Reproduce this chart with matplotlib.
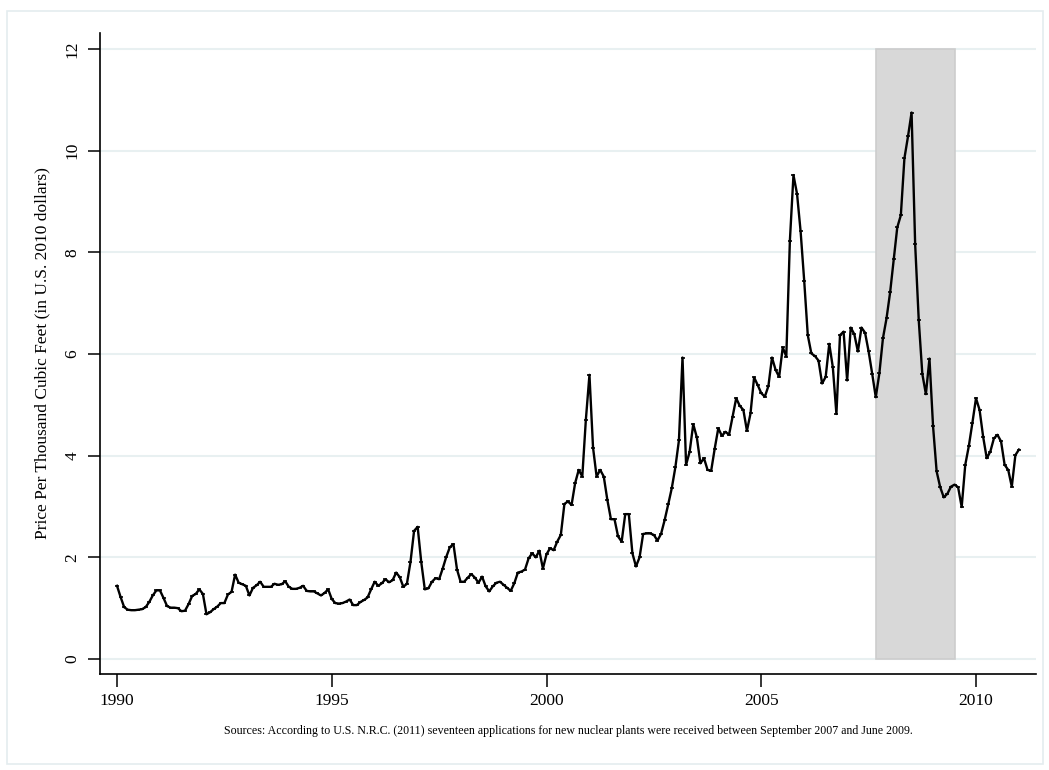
# -*- coding: utf-8 -*-
import numpy as np
import matplotlib.pyplot as plt
from matplotlib.patches import Rectangle

plt.rcParams['font.family'] = ['Liberation Serif', 'DejaVu Serif']

### Data ######################################################################

# monthly price, Jan 1990 - Jan 2011 (one row per year)
price = [
    1.44, 1.22, 1.02, 0.97, 0.96, 0.96, 0.97, 0.98, 1.02, 1.12, 1.25, 1.35,
    1.35, 1.20, 1.04, 1.01, 1.01, 1.00, 0.94, 0.95, 1.08, 1.24, 1.28, 1.37,
    1.28, 0.88, 0.92, 0.98, 1.03, 1.10, 1.10, 1.27, 1.32, 1.66, 1.50, 1.47,
    1.44, 1.25, 1.40, 1.45, 1.52, 1.42, 1.42, 1.42, 1.48, 1.46, 1.47, 1.53,
    1.42, 1.38, 1.38, 1.40, 1.44, 1.34, 1.33, 1.33, 1.29, 1.25, 1.30, 1.37,
    1.18, 1.10, 1.09, 1.10, 1.13, 1.17, 1.06, 1.06, 1.12, 1.16, 1.21, 1.37,
    1.52, 1.44, 1.49, 1.57, 1.51, 1.55, 1.70, 1.61, 1.42, 1.48, 1.91, 2.52,
    2.60, 1.91, 1.37, 1.39, 1.52, 1.59, 1.57, 1.78, 2.01, 2.20, 2.26, 1.76,
    1.52, 1.52, 1.60, 1.67, 1.60, 1.50, 1.62, 1.43, 1.33, 1.43, 1.50, 1.52,
    1.46, 1.40, 1.34, 1.49, 1.70, 1.72, 1.76, 1.98, 2.08, 2.00, 2.13, 1.78,
    2.06, 2.18, 2.14, 2.31, 2.44, 3.05, 3.10, 3.03, 3.46, 3.72, 3.59, 4.71,
    5.59, 4.16, 3.59, 3.72, 3.59, 3.13, 2.75, 2.75, 2.41, 2.31, 2.85, 2.85,
    2.08, 1.82, 2.00, 2.46, 2.47, 2.47, 2.44, 2.33, 2.46, 2.73, 3.04, 3.36,
    3.77, 4.30, 5.93, 3.82, 4.08, 4.62, 4.36, 3.85, 3.95, 3.72, 3.70, 4.14,
    4.54, 4.39, 4.47, 4.41, 4.77, 5.13, 4.98, 4.90, 4.49, 4.83, 5.54, 5.39,
    5.23, 5.16, 5.37, 5.93, 5.69, 5.55, 6.13, 5.95, 8.23, 9.52, 9.15, 8.41,
    7.44, 6.37, 6.01, 5.96, 5.87, 5.42, 5.55, 6.20, 5.74, 4.82, 6.37, 6.44,
    5.48, 6.52, 6.39, 6.05, 6.52, 6.42, 6.05, 5.61, 5.15, 5.62, 6.31, 6.70,
    7.21, 7.86, 8.49, 8.73, 9.85, 10.28, 10.75, 8.16, 6.67, 5.61, 5.21, 5.91,
    4.58, 3.69, 3.38, 3.18, 3.25, 3.39, 3.43, 3.38, 2.99, 3.82, 4.19, 4.65,
    5.13, 4.90, 4.37, 3.95, 4.08, 4.34, 4.41, 4.28, 3.82, 3.72, 3.39, 4.01,
    4.12,
]
startYear = 1990

xticks = [1990, 1995, 2000, 2005, 2010]
yticks = [0, 2, 4, 6, 8, 10, 12]

# NRC application window: September 2007 - June 2009
shadeStart = 2007 + 8 / 12
shadeEnd = 2009 + 6 / 12

ylabel = 'Price Per Thousand Cubic Feet (in U.S. 2010 dollars)'
caption = ('Sources: According to U.S. N.R.C. (2011) seventeen applications for new '
           'nuclear plants were received between September 2007 and June 2009.')

xScale = startYear + np.arange(len(price)) / 12

### Plot ######################################################################

W, H = 1049, 770
fig = plt.figure(figsize=(W / 100, H / 100), dpi=100)
fig.patch.set_facecolor('white')

# light outer frame
fig.patches.append(Rectangle((7 / W, 6 / H), 1036 / W, 753 / H, transform=fig.transFigure,
                             fill=False, edgecolor='#e4ecef', linewidth=1.2))

ax = fig.add_axes([100 / W, 96 / H, 936 / W, 641 / H])

ax.add_patch(Rectangle((shadeStart, 0), shadeEnd - shadeStart, 12,
                       facecolor='#d8d8d8', edgecolor='#cdcdcd', linewidth=1.2, zorder=1.5))

ax.plot(xScale, price, color='black', linewidth=1.7, marker='_', markersize=3.5,
        markeredgewidth=1.2, zorder=3)

ax.set_xlim(1990 - 17 / 42.95, 1990 + 919 / 42.95)
ax.set_ylim(-15 / 50.83, 12 + 16 / 50.83)

ax.set_xticks(xticks)
ax.set_yticks(yticks)
ax.set_yticklabels([str(v) for v in yticks], rotation=90, va='center')
ax.tick_params(axis='both', labelsize=12.5, length=9, width=1.1, color='black', pad=5)

ax.yaxis.grid(True, color='#e8f0f1', linewidth=1.5)
ax.set_axisbelow(True)

for side in ['top', 'right']:
    ax.spines[side].set_visible(False)
for side in ['left', 'bottom']:
    ax.spines[side].set_linewidth(1.2)

ax.set_ylabel(ylabel, fontsize=12.5, labelpad=10)

fig.text(568 / W, 1 - 731 / H, caption, ha='center', va='center', fontsize=8.6)

fig.savefig('out.png', dpi=100)
